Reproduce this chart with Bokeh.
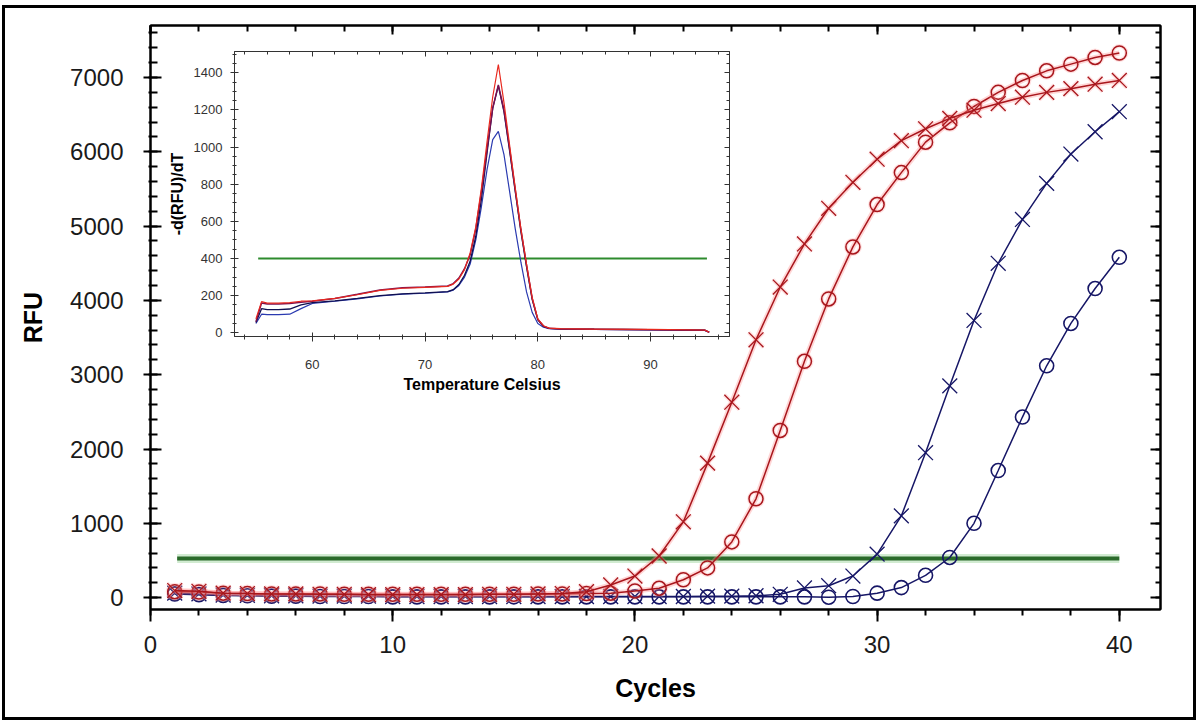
from bokeh.plotting import figure
from bokeh.models import Range1d, LinearAxis, SingleIntervalTicker, CustomJSTickFormatter
from bokeh.embed import file_html
from bokeh.resources import INLINE

# ---------------- data: amplification curves ----------------
cycles = list(range(1, 41))
red_x = [95, 85, 60, 55, 50, 50, 45, 45, 40, 40, 40, 40, 40, 45, 45, 50, 55, 80, 170, 290,
         560, 1020, 1810, 2630, 3470, 4180, 4760, 5240, 5590, 5900, 6150, 6310, 6450, 6560,
         6650, 6735, 6800, 6850, 6910, 6960]
red_o = [80, 75, 60, 55, 50, 50, 50, 45, 45, 45, 45, 45, 45, 45, 45, 50, 50, 55, 60, 90,
         125, 240, 400, 750, 1330, 2250, 3180, 4020, 4720, 5290, 5720, 6130, 6390, 6610,
         6800, 6960, 7090, 7180, 7270, 7330]
blue_x = [60, 50, 35, 30, 25, 25, 20, 20, 20, 15, 15, 15, 15, 15, 15, 15, 15, 15, 15, 15,
          15, 15, 20, 20, 25, 45, 130, 160, 290, 585, 1100, 1950, 2850, 3730, 4500, 5090,
          5575, 5970, 6270, 6540]
blue_o = [50, 40, 30, 25, 20, 20, 15, 15, 15, 10, 10, 10, 10, 10, 10, 10, 10, 10, 10, 10,
          10, 10, 10, 10, 10, 10, 10, 5, 15, 60, 135, 300, 540, 1000, 1710, 2430, 3120,
          3690, 4160, 4580]
threshold_x = [1.1, 40.0]
threshold_y = [525, 525]

# ---------------- data: melt curves (inset) ----------------
temps = [55.0, 55.5, 56.0, 57.0, 58.0, 59.0, 60.0, 62.0, 64.0, 66.0, 68.0, 70.0, 72.0, 72.5,
         73.0, 73.5, 74.0, 74.5, 75.0, 75.5, 76.0, 76.5, 77.0, 77.5, 78.0, 78.5, 79.0, 79.5,
         80.0, 80.5, 81.0, 82.0, 85.0, 90.0, 94.8, 95.2]
melt_red = [75, 168, 160, 160, 162, 170, 172, 185, 205, 228, 240, 245, 250, 262, 290, 340,
            430, 570, 780, 1030, 1270, 1445, 1240, 1010, 780, 560, 370, 190, 75, 38, 25, 22,
            20, 18, 15, 3]
melt_purple = [60, 160, 155, 155, 158, 165, 170, 185, 207, 230, 242, 246, 252, 265, 295, 345,
               420, 560, 760, 990, 1210, 1335, 1200, 990, 770, 555, 365, 185, 72, 36, 24, 21,
               19, 17, 14, 3]
melt_navy = [55, 130, 125, 125, 128, 150, 162, 172, 185, 200, 210, 215, 222, 232, 260, 310,
             385, 520, 720, 970, 1210, 1330, 1190, 980, 760, 545, 355, 180, 70, 35, 24, 21,
             19, 17, 14, 3]
melt_blue = [50, 100, 98, 98, 100, 130, 158, 170, 183, 198, 208, 213, 220, 230, 255, 300,
             370, 500, 680, 880, 1040, 1085, 960, 760, 560, 380, 220, 110, 50, 30, 22, 20,
             18, 16, 13, 3]
melt_threshold_x = [55.2, 95.0]
melt_threshold_y = [400, 400]

RED = "#a8161c"
BLUE = "#161666"
TXT = "#1a1a1a"
FONT = "Liberation Sans"

# ---------------- main figure ----------------
p = figure(width=1188, height=709, output_backend="svg", toolbar_location=None,
           x_range=Range1d(0, 41.7), y_range=Range1d(-160, 7700),
           min_border_left=145, min_border_right=33, min_border_top=17, min_border_bottom=108,
           x_axis_type=None, y_axis_type=None,
           styles={"position": "absolute", "left": "5px", "top": "8px",
                   "outline": "3px solid black", "outline-offset": "0px"})
p.grid.visible = False
p.outline_line_color = "black"
p.outline_line_width = 2
p.background_fill_color = "white"
p.border_fill_color = "white"

blank = CustomJSTickFormatter(code="return ''")

xb = LinearAxis(ticker=SingleIntervalTicker(interval=10, num_minor_ticks=5), axis_label="Cycles")
yl = LinearAxis(ticker=SingleIntervalTicker(interval=1000, num_minor_ticks=5), axis_label="RFU")
xt = LinearAxis(ticker=SingleIntervalTicker(interval=10, num_minor_ticks=5), formatter=blank)
yr = LinearAxis(ticker=SingleIntervalTicker(interval=1000, num_minor_ticks=5), formatter=blank)

for ax in (xb, yl, xt, yr):
    ax.axis_line_width = 2
    ax.axis_line_color = "black"
    ax.major_tick_line_width = 2
    ax.minor_tick_line_width = 2
    ax.major_tick_line_color = "black"
    ax.minor_tick_line_color = "black"
    ax.major_label_text_font = FONT
    ax.major_label_text_font_size = "24px"
    ax.major_label_text_color = TXT
    ax.axis_label_text_font = FONT
    ax.axis_label_text_font_size = "25px"
    ax.axis_label_text_font_style = "bold"
    ax.axis_label_text_color = "black"

xb.major_tick_out = 12; xb.major_tick_in = 0
xb.minor_tick_out = 6; xb.minor_tick_in = 0
xb.major_label_standoff = 14
xb.axis_label_standoff = 18

yl.major_tick_out = 7; yl.major_tick_in = 11
yl.minor_tick_out = 2; yl.minor_tick_in = 7
yl.major_label_standoff = 20
yl.axis_label_standoff = 20

xt.major_tick_out = 0; xt.major_tick_in = 9
xt.minor_tick_out = 0; xt.minor_tick_in = 6
xt.major_label_standoff = 0
xt.major_label_text_font_size = "1px"

yr.major_tick_out = 0; yr.major_tick_in = 10
yr.minor_tick_out = 0; yr.minor_tick_in = 5
yr.major_label_standoff = 0
yr.major_label_text_font_size = "1px"

p.add_layout(xb, "below")
p.add_layout(yl, "left")
p.add_layout(xt, "above")
p.add_layout(yr, "right")

# threshold
p.line(threshold_x, threshold_y, line_color="#9ad39a", line_width=9, line_alpha=0.45)
p.line(threshold_x, threshold_y, line_color="#2a6a2a", line_width=4)

# blue series
p.line(cycles, blue_o, line_color=BLUE, line_width=1.5)
p.scatter(cycles, blue_o, marker="circle", size=14, fill_color=None, line_color=BLUE, line_width=1.6)
p.line(cycles, blue_x, line_color=BLUE, line_width=1.5)
p.scatter(cycles, blue_x, marker="x", size=21, line_color=BLUE, line_width=1.3)

# red series (with soft halo)
for ys, mk, sz in ((red_o, "circle", 14), (red_x, "x", 21)):
    p.line(cycles, ys, line_color="#ff8a8a", line_width=5, line_alpha=0.35)
    p.scatter(cycles, ys, marker=mk, size=sz, fill_color=None, line_color="#ff9a9a",
              line_width=4, line_alpha=0.3)
    p.line(cycles, ys, line_color=RED, line_width=1.5)
    p.scatter(cycles, ys, marker=mk, size=sz, fill_color=None, line_color=RED,
              line_width=1.5 if mk == "circle" else 1.3)

# ---------------- inset figure ----------------
ins = figure(width=574, height=350, output_backend="svg", toolbar_location=None,
             x_range=Range1d(53.1, 97.0), y_range=Range1d(-20, 1515),
             min_border_left=66, min_border_right=10, min_border_top=6, min_border_bottom=58,
             x_axis_type=None, y_axis_type=None,
             styles={"position": "absolute", "left": "165px", "top": "45px"})
ins.grid.visible = False
ins.outline_line_color = "#333333"
ins.outline_line_width = 1
ins.background_fill_color = "white"
ins.border_fill_color = None

ixb = LinearAxis(ticker=SingleIntervalTicker(interval=10, num_minor_ticks=5),
                 axis_label="Temperature Celsius")
iyl = LinearAxis(ticker=SingleIntervalTicker(interval=200, num_minor_ticks=4),
                 axis_label="-d(RFU)/dT")
ixt = LinearAxis(ticker=SingleIntervalTicker(interval=10, num_minor_ticks=5), formatter=blank)
iyr = LinearAxis(ticker=SingleIntervalTicker(interval=200, num_minor_ticks=4), formatter=blank)
for ax in (ixb, iyl, ixt, iyr):
    ax.axis_line_width = 1
    ax.axis_line_color = "#333333"
    ax.major_tick_line_color = "#333333"
    ax.minor_tick_line_color = "#333333"
    ax.major_label_text_font = FONT
    ax.major_label_text_font_size = "13px"
    ax.major_label_text_color = "#333333"
    ax.axis_label_text_font = FONT
    ax.axis_label_text_font_size = "16px"
    ax.axis_label_text_font_style = "bold"
    ax.axis_label_text_color = "black"

ixb.major_tick_out = 5; ixb.major_tick_in = 4
ixb.minor_tick_out = 3; ixb.minor_tick_in = 2
ixb.major_label_standoff = 18
ixb.axis_label_standoff = 4
iyl.major_tick_out = 4; iyl.major_tick_in = 4
iyl.minor_tick_out = 2; iyl.minor_tick_in = 2
iyl.major_label_standoff = 8
iyl.axis_label_standoff = 5
ixt.major_tick_out = 0; ixt.major_tick_in = 5
ixt.minor_tick_out = 0; ixt.minor_tick_in = 3
ixt.major_label_standoff = 0
ixt.major_label_text_font_size = "1px"
iyr.major_tick_out = 0; iyr.major_tick_in = 5
iyr.minor_tick_out = 0; iyr.minor_tick_in = 3
iyr.major_label_standoff = 0
iyr.major_label_text_font_size = "1px"

ins.add_layout(ixb, "below")
ins.add_layout(iyl, "left")
ins.add_layout(ixt, "above")
ins.add_layout(iyr, "right")

ins.line(melt_threshold_x, melt_threshold_y, line_color="#2e8b2e", line_width=2)
ins.line(temps, melt_blue, line_color="#2a3ab0", line_width=1.2)
ins.line(temps, melt_navy, line_color="#101050", line_width=1.3)
ins.line(temps, melt_purple, line_color="#7a1050", line_width=1.5)
ins.line(temps, melt_red, line_color="#e8281e", line_width=1.2)

open("out.html", "w").write(file_html([p, ins], INLINE))
